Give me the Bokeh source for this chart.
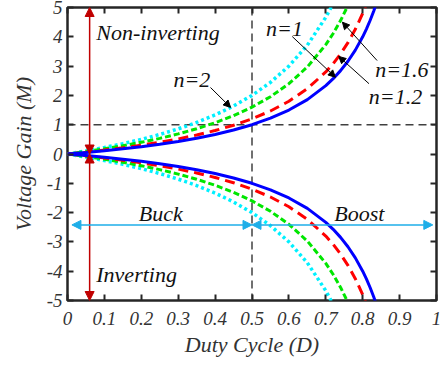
from bokeh.plotting import figure
from bokeh.models import (Arrow, NormalHead, Label, Span, LinearAxis, FixedTicker,
                          Range1d, CustomJSTickFormatter)
from bokeh.embed import file_html
from bokeh.resources import INLINE

# ---- data ----
duty = [0, 0.05, 0.1, 0.15, 0.2, 0.25, 0.3, 0.35, 0.4, 0.45, 0.5, 0.55, 0.6, 0.65,
        0.7, 0.72, 0.74, 0.76, 0.78, 0.8, 0.81, 0.82, 0.83, 0.84]
gain_n1 = [0, 0.053, 0.111, 0.176, 0.25, 0.333, 0.429, 0.538, 0.667, 0.818, 1.0, 1.222,
           1.5, 1.857, 2.333, 2.571, 2.846, 3.167, 3.545, 4.0, 4.263, 4.556, 4.882, 5.25]
gain_n12 = [0, 0.063, 0.133, 0.212, 0.3, 0.4, 0.514, 0.646, 0.8, 0.982, 1.2, 1.467,
            1.8, 2.229, 2.8, 3.086, 3.415, 3.8, 4.255, 4.8, 5.116, 5.467, 5.859, 6.3]
gain_n16 = [0, 0.084, 0.178, 0.282, 0.4, 0.533, 0.686, 0.862, 1.067, 1.309, 1.6, 1.956,
            2.4, 2.971, 3.733, 4.114, 4.554, 5.067, 5.673, 6.4, 6.821, 7.289, 7.812, 8.4]
gain_n2 = [0, 0.105, 0.222, 0.353, 0.5, 0.667, 0.857, 1.077, 1.333, 1.636, 2.0, 2.444,
           3.0, 3.714, 4.667, 5.143, 5.692, 6.333, 7.091, 8.0, 8.526, 9.111, 9.765, 10.5]

x_ticks = [0, 0.1, 0.2, 0.3, 0.4, 0.5, 0.6, 0.7, 0.8, 0.9, 1]
x_tick_labels = ["0", "0.1", "0.2", "0.3", "0.4", "0.5", "0.6", "0.7", "0.8", "0.9", "1"]
y_ticks = [-5, -4, -3, -2, -1, 0, 1, 2, 3, 4, 5]
y_tick_labels = ["-5", "-4", "-3", "-2", "-1", "0", "1", "2", "3", "4", "5"]

FONT = "serif"
DARK = "#262626"

p = figure(width=445, height=371, output_backend="svg", toolbar_location=None,
           x_range=Range1d(0, 1), y_range=Range1d(-5, 5),
           min_border_left=67, min_border_right=9, min_border_top=7, min_border_bottom=71)
p.grid.visible = False
p.outline_line_color = DARK
p.outline_line_width = 2.5


def style_axis(ax, ticks, overrides, show_labels):
    ax.ticker = FixedTicker(ticks=ticks)
    ax.axis_line_color = None
    ax.major_tick_in = 6
    ax.major_tick_out = 0
    ax.major_tick_line_width = 2
    ax.major_tick_line_color = DARK
    ax.minor_tick_line_color = None
    if show_labels:
        ax.major_label_overrides = {t: s for t, s in zip(ticks, overrides)}
        ax.major_label_text_font = FONT
        ax.major_label_text_font_style = "italic"
        ax.major_label_text_font_size = "19px"
        ax.major_label_text_color = "#333333"
    else:
        ax.formatter = CustomJSTickFormatter(code="return ''")
        ax.major_label_standoff = 0


xa = p.xaxis[0]
ya = p.yaxis[0]
style_axis(xa, x_ticks, x_tick_labels, True)
style_axis(ya, y_ticks, y_tick_labels, True)
xa.major_label_standoff = 11
ya.major_label_standoff = 5
xa.axis_label = "Duty Cycle (D)"
ya.axis_label = "Voltage Gain (M)"
for ax in (xa, ya):
    ax.axis_label_text_font = FONT
    ax.axis_label_text_font_style = "italic"
    ax.axis_label_text_font_size = "22px"
    ax.axis_label_text_color = "#333333"
xa.axis_label_standoff = 4
ya.axis_label_standoff = 8

top_ax = LinearAxis()
right_ax = LinearAxis()
style_axis(top_ax, x_ticks, x_tick_labels, False)
style_axis(right_ax, y_ticks, y_tick_labels, False)
p.add_layout(top_ax, "above")
p.add_layout(right_ax, "right")

# reference dashed lines
p.add_layout(Span(location=1, dimension="width", line_color="#404040", line_width=1.5,
                  line_dash="8 5", level="underlay"))
p.add_layout(Span(location=0.5, dimension="height", line_color="#404040", line_width=1.5,
                  line_dash="8 5", level="underlay"))

series = [
    (gain_n2, "#00F0FF", "3 3", 3.5),
    (gain_n16, "#00E600", "6 3", 3),
    (gain_n12, "#FF0000", "10 6", 3),
    (gain_n1, "#0000FF", "solid", 3),
]
for gains, color, dash, w in series:
    p.line(duty, gains, line_color=color, line_dash=dash, line_width=w)
    p.line(duty, [-g for g in gains], line_color=color, line_dash=dash, line_width=w)

# region arrows
RED = "#C00000"
CYAN = "#1EAEE8"


def dbl_arrow(x0, y0, x1, y1, color, size):
    p.add_layout(Arrow(x_start=x0, y_start=y0, x_end=x1, y_end=y1,
                       line_color=color, line_width=1.5,
                       start=NormalHead(size=size, fill_color=color, line_color=color),
                       end=NormalHead(size=size, fill_color=color, line_color=color)))


dbl_arrow(0.06, 0, 0.06, 5, RED, 9)
dbl_arrow(0.06, 0, 0.06, -5, RED, 9)
dbl_arrow(0.012, -2.42, 0.5, -2.42, CYAN, 9)
dbl_arrow(0.5, -2.42, 0.99, -2.42, CYAN, 9)

# pointer arrows
pointers = [
    (0.3875, 2.27, 0.442, 1.59),
    (0.609, 4.01, 0.726, 2.62),
    (0.839, 3.19, 0.745, 4.50),
    (0.817, 2.40, 0.735, 3.33),
]
for x0, y0, x1, y1 in pointers:
    p.add_layout(Arrow(x_start=x0, y_start=y0, x_end=x1, y_end=y1,
                       line_color="black", line_width=1,
                       end=NormalHead(size=7, fill_color="black", line_color="black")))

labels = [
    ("Non-inverting", 0.078, 4.15, "left"),
    ("Inverting", 0.078, -4.1, "left"),
    ("Buck", 0.253, -2.03, "center"),
    ("Boost", 0.791, -2.03, "center"),
    ("n=2", 0.337, 2.53, "center"),
    ("n=1", 0.588, 4.27, "center"),
    ("n=1.6", 0.906, 2.90, "center"),
    ("n=1.2", 0.889, 1.96, "center"),
]
for txt, x, y, align in labels:
    p.add_layout(Label(x=x, y=y, text=txt, text_font=FONT, text_font_style="italic",
                       text_font_size="22px", text_color="#111111",
                       text_align=align, text_baseline="middle"))

open("out.html", "w").write(file_html(p, INLINE))
